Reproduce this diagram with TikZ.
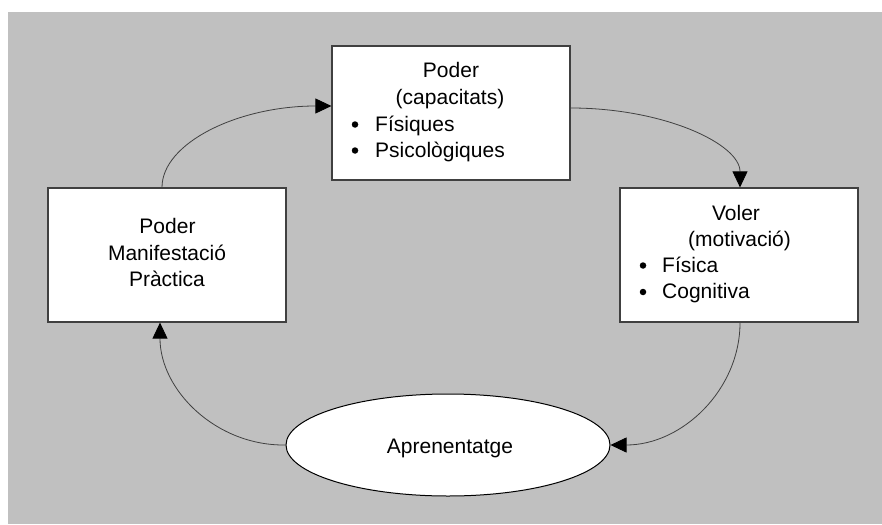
\documentclass[tikz,border=0pt]{standalone}
\usepackage{fontspec}
\setmainfont{Liberation Sans}
\usetikzlibrary{arrows.meta,shapes.geometric}
\definecolor{bg}{RGB}{192,192,192}
\definecolor{edge}{RGB}{64,64,64}
\begin{document}
\begin{tikzpicture}[x=1pt,y=-1pt,
  box/.style={draw=edge,line width=1.2pt,fill=white,rectangle,inner sep=0pt,minimum width=238pt,minimum height=134pt},
  oval/.style={draw=black,line width=1pt,fill=white,ellipse,inner sep=0pt,minimum width=324pt,minimum height=102pt},
  txt/.style={anchor=base,inner sep=0pt,font=\fontsize{21}{24}\selectfont},
  ltxt/.style={anchor=base west,inner sep=0pt,font=\fontsize{21}{24}\selectfont},
  bul/.style={circle,fill=black,inner sep=0pt,minimum size=6.5pt},
  link/.style={draw=edge,line width=0.8pt,-{Triangle[length=16pt,width=15pt,black]}}]
\useasboundingbox (0,0) rectangle (882,524);
\fill[bg] (8,12) rectangle (882,524);
% boxes
\node[box] (T) at (451,113) {};
\node[box] (L) at (167,255) {};
\node[box] (R) at (739,255) {};
\node[oval] (E) at (448,445) {};
% top box text
\node[txt] (t1) at (451,77.3) {Poder};
\node[txt] (t2) at (450,104) {(capacitats)};
\node[bul] (b1) at (355,124.5) {};
\node[ltxt] (t3) at (375,131) {Físiques};
\node[bul] (b2) at (355,150.5) {};
\node[ltxt] (t4) at (375,157) {Psicològiques};
% right box text
\node[txt] (r1) at (736,220) {Voler};
\node[txt] (r2) at (739.5,246) {(motivació)};
\node[bul] (b3) at (643,265.5) {};
\node[ltxt] (r3) at (662,272) {Física};
\node[bul] (b4) at (643,292) {};
\node[ltxt] (r4) at (662,298.5) {Cognitiva};
% left box text
\node[txt] (l1) at (167.5,233.3) {Poder};
\node[txt] (l2) at (167,260) {Manifestació};
\node[txt] (l3) at (167,286.7) {Pràctica};
% ellipse text
\node[txt] (e1) at (450,453.3) {Aprenentatge};
% connectors
\draw[link] ([xshift=-5pt]L.north) .. controls (162,143) and (238,106) .. ([yshift=7pt]T.west);
\draw[link] ([yshift=5pt]T.east) .. controls (664,108) and (740,144) .. ([xshift=1pt]R.north);
\draw[link] ([xshift=1pt]R.south) .. controls (740,390) and (682,445) .. (E.east);
\draw[link] (E.west) .. controls (216,446) and (160,390) .. ([xshift=-7pt]L.south);
\end{tikzpicture}
\end{document}
